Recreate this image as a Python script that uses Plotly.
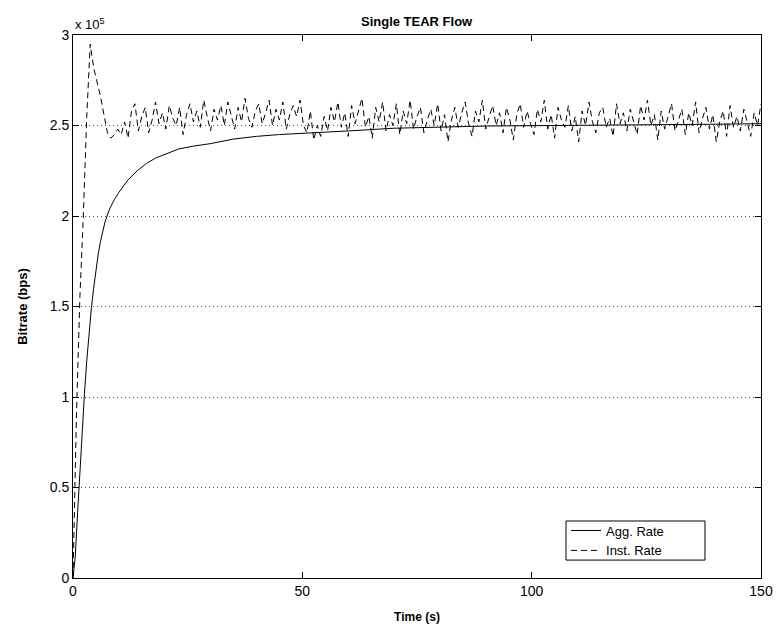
import plotly.graph_objects as go

# ---------------- data (bitrate in units of 1e5 bps) ----------------
inst_step = 0.75  # seconds between instantaneous samples
inst_rate = [
    0.00, 0.90, 1.55, 2.00, 2.55, 2.95, 2.82, 2.74, 2.66, 2.56,
    2.46, 2.43, 2.45, 2.48,
    2.45, 2.52, 2.43, 2.58, 2.62, 2.47, 2.55, 2.60, 2.46, 2.53,
    2.63, 2.51, 2.57, 2.48, 2.61, 2.54, 2.50, 2.60, 2.45, 2.56,
    2.62, 2.52, 2.58, 2.49, 2.64, 2.55, 2.47, 2.59, 2.53, 2.61,
    2.50, 2.63, 2.56, 2.48, 2.60, 2.52, 2.65, 2.54, 2.49, 2.58,
    2.62, 2.51, 2.57, 2.64, 2.50, 2.59, 2.53, 2.63, 2.48, 2.56,
    2.61, 2.55, 2.64, 2.50, 2.46, 2.58, 2.42, 2.50, 2.44, 2.55,
    2.47, 2.60, 2.52, 2.63, 2.49, 2.57, 2.44, 2.61, 2.51, 2.58,
    2.65, 2.49, 2.55, 2.43, 2.60, 2.52, 2.63, 2.47, 2.56, 2.50,
    2.62, 2.45, 2.58, 2.51, 2.64, 2.48, 2.55, 2.60, 2.46, 2.53,
    2.59, 2.50, 2.62, 2.47, 2.56, 2.41, 2.53, 2.60, 2.49, 2.57,
    2.63, 2.51, 2.44, 2.58, 2.52, 2.64, 2.48, 2.55, 2.61, 2.50,
    2.57, 2.46, 2.60, 2.53, 2.42, 2.56, 2.62, 2.49, 2.58, 2.51,
    2.45, 2.59, 2.52, 2.64, 2.48, 2.56, 2.43, 2.60, 2.53, 2.49,
    2.61, 2.47, 2.55, 2.41, 2.58, 2.50, 2.63, 2.52, 2.46, 2.57,
    2.60, 2.49, 2.54, 2.44, 2.62, 2.51, 2.57, 2.47, 2.59, 2.52,
    2.45, 2.61, 2.53, 2.64, 2.50, 2.56, 2.42, 2.58, 2.48, 2.55,
    2.62, 2.47, 2.53, 2.59, 2.45, 2.57, 2.50, 2.63, 2.46, 2.54,
    2.60, 2.48, 2.56, 2.41, 2.52, 2.58, 2.44, 2.61, 2.49, 2.55,
    2.47, 2.59, 2.52, 2.44, 2.57, 2.50, 2.62,
]
inst_time = [i * inst_step for i in range(len(inst_rate))]

agg_time = [0, 0.5, 1, 1.5, 2, 2.5, 3, 3.5, 4, 4.5, 5, 5.5, 6, 6.5, 7, 8, 9, 10,
            12, 14, 16, 18, 20, 23, 26, 30, 35, 40, 45, 50, 55, 60, 70, 80, 90,
            100, 110, 120, 130, 140, 150]
agg_rate = [0, 0.12, 0.36, 0.60, 0.82, 1.02, 1.20, 1.36, 1.49, 1.60, 1.70, 1.79,
            1.86, 1.92, 1.97, 2.04, 2.09, 2.13, 2.20, 2.25, 2.29, 2.32, 2.34,
            2.37, 2.385, 2.40, 2.425, 2.44, 2.45, 2.458, 2.465, 2.47, 2.485,
            2.492, 2.497, 2.499, 2.50, 2.502, 2.504, 2.507, 2.51]

x_ticks = [0, 50, 100, 150]
y_ticks = [0, 0.5, 1, 1.5, 2, 2.5, 3]
y_tick_labels = ["0", "0.5", "1", "1.5", "2", "2.5", "3"]

FONT = "Liberation Sans, Arial, Helvetica, sans-serif"

fig = go.Figure()
fig.add_trace(go.Scatter(x=agg_time, y=agg_rate, mode="lines", name="Agg. Rate",
                         line=dict(color="black", width=1)))
fig.add_trace(go.Scatter(x=inst_time, y=inst_rate, mode="lines", name="Inst. Rate",
                         line=dict(color="black", width=1, dash="6px,4px")))

axis_common = dict(showline=True, linecolor="black", linewidth=1, mirror="ticks",
                   ticks="inside", ticklen=6, tickcolor="black", tickwidth=1,
                   zeroline=False, automargin=False,
                   tickfont=dict(family=FONT, size=14, color="black"))

fig.update_xaxes(range=[0, 150], tickvals=x_ticks, showgrid=False,
                 title=dict(text="<b>Time (s)</b>", font=dict(family=FONT, size=12, color="black"),
                            standoff=14),
                 **axis_common)
fig.update_yaxes(range=[0, 3], tickvals=y_ticks, ticktext=y_tick_labels,
                 showgrid=True, gridcolor="#555", gridwidth=1, griddash="1px,3px",
                 title=dict(text="<b>Bitrate (bps)</b>", font=dict(family=FONT, size=13, color="black"),
                            standoff=19),
                 **axis_common)

fig.add_annotation(xref="paper", yref="paper", x=0, y=1, xanchor="left", yanchor="bottom",
                   yshift=1, showarrow=False, text="x 10<sup>5</sup>",
                   font=dict(family=FONT, size=13, color="black"))
fig.add_annotation(xref="paper", yref="paper", x=0.5, y=1, xanchor="center", yanchor="bottom",
                   yshift=4, showarrow=False, text="<b>Single TEAR Flow</b>",
                   font=dict(family=FONT, size=13, color="black"))

# legend frame (MATLAB-style box, wider than its entries)
fig.add_shape(type="rect", xref="paper", yref="paper",
              x0=0.7166, x1=0.9186, y0=0.033, y1=0.105,
              line=dict(color="black", width=1), fillcolor="white", layer="above")

fig.update_layout(
    width=778, height=634,
    margin=dict(l=73, r=17, t=35, b=56),
    paper_bgcolor="white", plot_bgcolor="white",
    showlegend=True,
    legend=dict(x=0.7166, y=0.069, xanchor="left", yanchor="middle",
                bgcolor="rgba(0,0,0,0)", borderwidth=0,
                font=dict(family=FONT, size=13, color="black"),
                tracegroupgap=0, itemwidth=30),
)

fig.write_html("out.html")
